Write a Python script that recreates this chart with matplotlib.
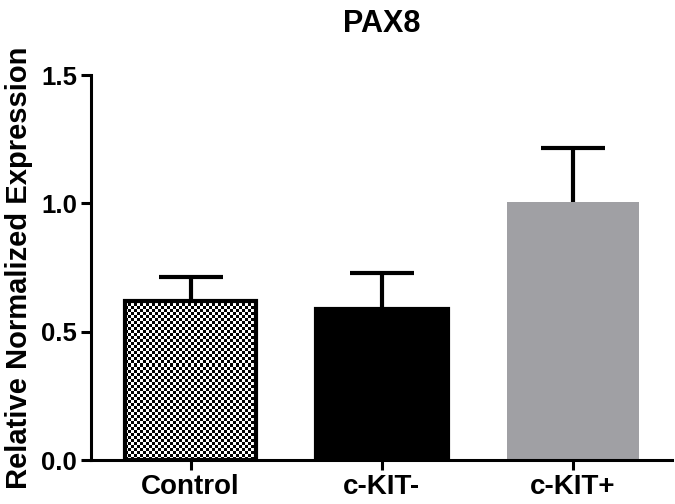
import numpy as np
import matplotlib.pyplot as plt

categories = ["Control", "c-KIT-", "c-KIT+"]
means = [0.62, 0.59, 1.005]
errors = [0.095, 0.14, 0.21]
y_ticks = [0.0, 0.5, 1.0, 1.5]

plt.rcParams['font.family'] = ['Liberation Sans', 'DejaVu Sans']
plt.rcParams['font.weight'] = 'bold'

fig = plt.figure(figsize=(6.75, 5.04), dpi=100)
ax_rect = [0.135, 0.087, 0.861, 0.764]
ax = fig.add_axes(ax_rect)
xlim = (-0.52, 2.52)
ylim = (0, 1.5)

x = np.arange(len(categories))
face = ['none', 'black', '#a0a0a4']
edge = ['black', 'black', '#a0a0a4']
bars = ax.bar(x, means, width=0.69, color=face, edgecolor=edge, linewidth=3, zorder=2)
bars[2].set_linewidth(0)

err = ax.errorbar(x, means, yerr=[np.zeros(len(errors)), errors], fmt='none',
                  ecolor='black', elinewidth=3, capsize=23, capthick=3, zorder=1)
# only the upper cap
err[1][0].set_visible(False)

# checkerboard fill for the control bar
b = bars[0]
bx0, by0 = b.get_x(), b.get_y()
bw, bh = b.get_width(), b.get_height()
cell = 3.0
px_per_x = fig.get_size_inches()[0] * fig.dpi * ax_rect[2] / (xlim[1] - xlim[0])
px_per_y = fig.get_size_inches()[1] * fig.dpi * ax_rect[3] / (ylim[1] - ylim[0])
nx = int(bw * px_per_x / cell) + 1
ny = int(bh * px_per_y / cell) + 1
checker = (np.indices((ny, nx)).sum(axis=0) % 2).astype(float)
img = ax.imshow(checker, cmap='gray', vmin=0, vmax=1,
                extent=[bx0, bx0 + nx * cell / px_per_x, by0, by0 + ny * cell / px_per_y],
                interpolation='nearest', aspect='auto', zorder=1.5, origin='lower')
img.set_clip_path(b)

ax.set_xlim(*xlim)
ax.set_ylim(*ylim)

ax.set_xticks(x)
ax.set_xticklabels(categories, fontsize=20, fontweight='bold')
ax.set_yticks(y_ticks)
ax.set_yticklabels([f"{v:.1f}" for v in y_ticks], fontsize=18.5, fontweight='bold')
ax.tick_params(width=2.2, length=7, pad=3)

for s in ['top', 'right']:
    ax.spines[s].set_visible(False)
for s in ['left', 'bottom']:
    ax.spines[s].set_linewidth(2.2)

ax.set_ylabel("Relative Normalized Expression", fontsize=21, fontweight='bold', labelpad=6)
ax.set_title("PAX8", fontsize=22, fontweight='bold', pad=31)

fig.savefig("out.png", dpi=100)
